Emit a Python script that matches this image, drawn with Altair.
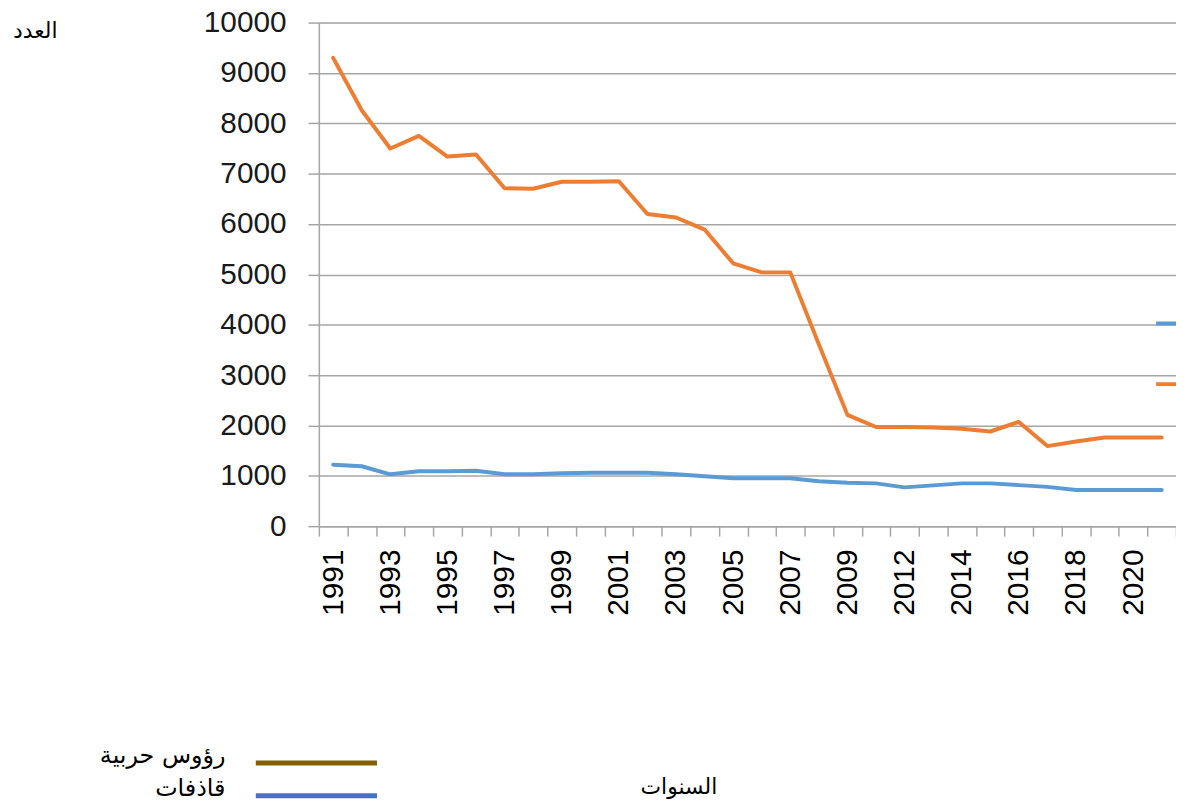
import altair as alt
import pandas as pd

# ---- data ----
years = ["1991", "1992", "1993", "1994", "1995", "1996", "1997", "1998", "1999", "2000",
         "2001", "2002", "2003", "2004", "2005", "2006", "2007", "2008", "2009", "2010",
         "2012", "2013", "2014", "2015", "2016", "2017", "2018", "2019", "2020", "2021"]
warheads = [9300, 8260, 7500, 7750, 7340, 7380, 6710, 6700, 6840, 6840,
            6850, 6200, 6130, 5890, 5220, 5040, 5040, 3610, 2210, 1970,
            1970, 1960, 1935, 1880, 2070, 1590, 1680, 1760, 1760, 1760]
launchers = [1220, 1190, 1030, 1090, 1090, 1100, 1030, 1030, 1050, 1060,
             1060, 1060, 1030, 990, 950, 950, 950, 890, 860, 850,
             770, 810, 850, 850, 815, 780, 720, 720, 720, 720]
shown_years = years[::2]
y_ticks = [0, 1000, 2000, 3000, 4000, 5000, 6000, 7000, 8000, 9000, 10000]

series_names = ["قاذفات", "رؤوس حربية"]
series_colors = ["#5B9BD5", "#ED7D31"]
legend_labels = ["رؤوس حربية", "قاذفات"]
legend_colors = ["#806000", "#4472C4"]

x_title = "السنوات"
y_title = "العدد"

rows = []
for yr, w, l in zip(years, warheads, launchers):
    rows.append({"year": yr, "value": w, "series": series_names[1]})
    rows.append({"year": yr, "value": l, "series": series_names[0]})
df = pd.DataFrame(rows)
# legend-only entries (no values, so nothing is drawn in the plot)
legdf = pd.DataFrame({"entry": legend_labels, "value": [None, None]})

grid_col = "#A6A6A6"
num_font = "Liberation Sans"
ar_font = "DejaVu Sans"

label_expr = "indexof([" + ",".join("'" + s + "'" for s in shown_years) + "], datum.label) >= 0 ? datum.label : ''"

lines = alt.Chart(df).mark_line(strokeWidth=4, strokeCap="round", strokeJoin="round").encode(
    x=alt.X("year:N", sort=years,
            scale=alt.Scale(type="band", domain=years, paddingInner=0, paddingOuter=0),
            axis=alt.Axis(title=x_title, titleFont=ar_font, titleFontSize=22, titleFontWeight="normal",
                          titleColor="#000000", titleX=362, titleY=262, titleAlign="center",
                          titleBaseline="middle", labelAngle=270, labelFont=num_font, labelFontSize=30,
                          labelColor="#000000", labelPadding=13, tickSize=10, tickColor=grid_col,
                          tickWidth=1.5, domainColor=grid_col, domainWidth=1.5, tickBand="extent",
                          labelExpr=label_expr, grid=False, labelOverlap=False)),
    y=alt.Y("value:Q", scale=alt.Scale(domain=[0, 10000], nice=False),
            axis=alt.Axis(values=y_ticks, title=y_title, titleFont=ar_font, titleFontSize=22,
                          titleFontWeight="normal", titleColor="#000000", titleAngle=0, titleX=-286,
                          titleY=8, titleAlign="center", titleBaseline="middle",
                          labelFont=num_font, labelFontSize=30, labelColor="#1a1a1a", labelPadding=22,
                          tickSize=11, tickColor=grid_col, tickWidth=1.5, domainColor=grid_col,
                          domainWidth=1.5, grid=True, gridColor=grid_col, gridWidth=1.5,
                          format="d", labelOverlap=False)),
    color=alt.Color("series:N",
                    scale=alt.Scale(domain=series_names, range=series_colors),
                    legend=alt.Legend(orient="none", legendX=841, legendY=298, title=None, padding=0,
                                      symbolType="stroke", symbolSize=441, symbolStrokeWidth=4,
                                      clipHeight=10, rowPadding=51, labelExpr="''", labelFontSize=1)),
)

dummy = alt.Chart(legdf).mark_line(strokeWidth=5).encode(
    y=alt.Y("value:Q"),
    stroke=alt.Stroke("entry:N",
                      scale=alt.Scale(domain=legend_labels, range=legend_colors),
                      legend=alt.Legend(orient="none", legendX=-15, legendY=733, title=None, padding=0,
                                        symbolType="M-6.1,0H6.1", symbolSize=400, symbolStrokeWidth=5,
                                        symbolOpacity=1, symbolFillColor="transparent", rowPadding=3,
                                        labelAlign="right", labelOffset={"expr": "-104"},
                                        labelBaseline="alphabetic",
                                        labelFont=ar_font, labelFontSize=24, labelColor="#000000",
                                        labelLimit=0)),
)

chart = alt.layer(lines, dummy).resolve_scale(color="independent", stroke="independent").properties(
    width=863, height=507,
    padding={"left": 313, "top": 12, "right": 0, "bottom": 273},
    autosize=alt.AutoSizeParams(type="none"),
).configure_view(stroke=None).configure(background="#ffffff")

chart.save("out.html", embed_options={"renderer": "svg", "actions": False})
